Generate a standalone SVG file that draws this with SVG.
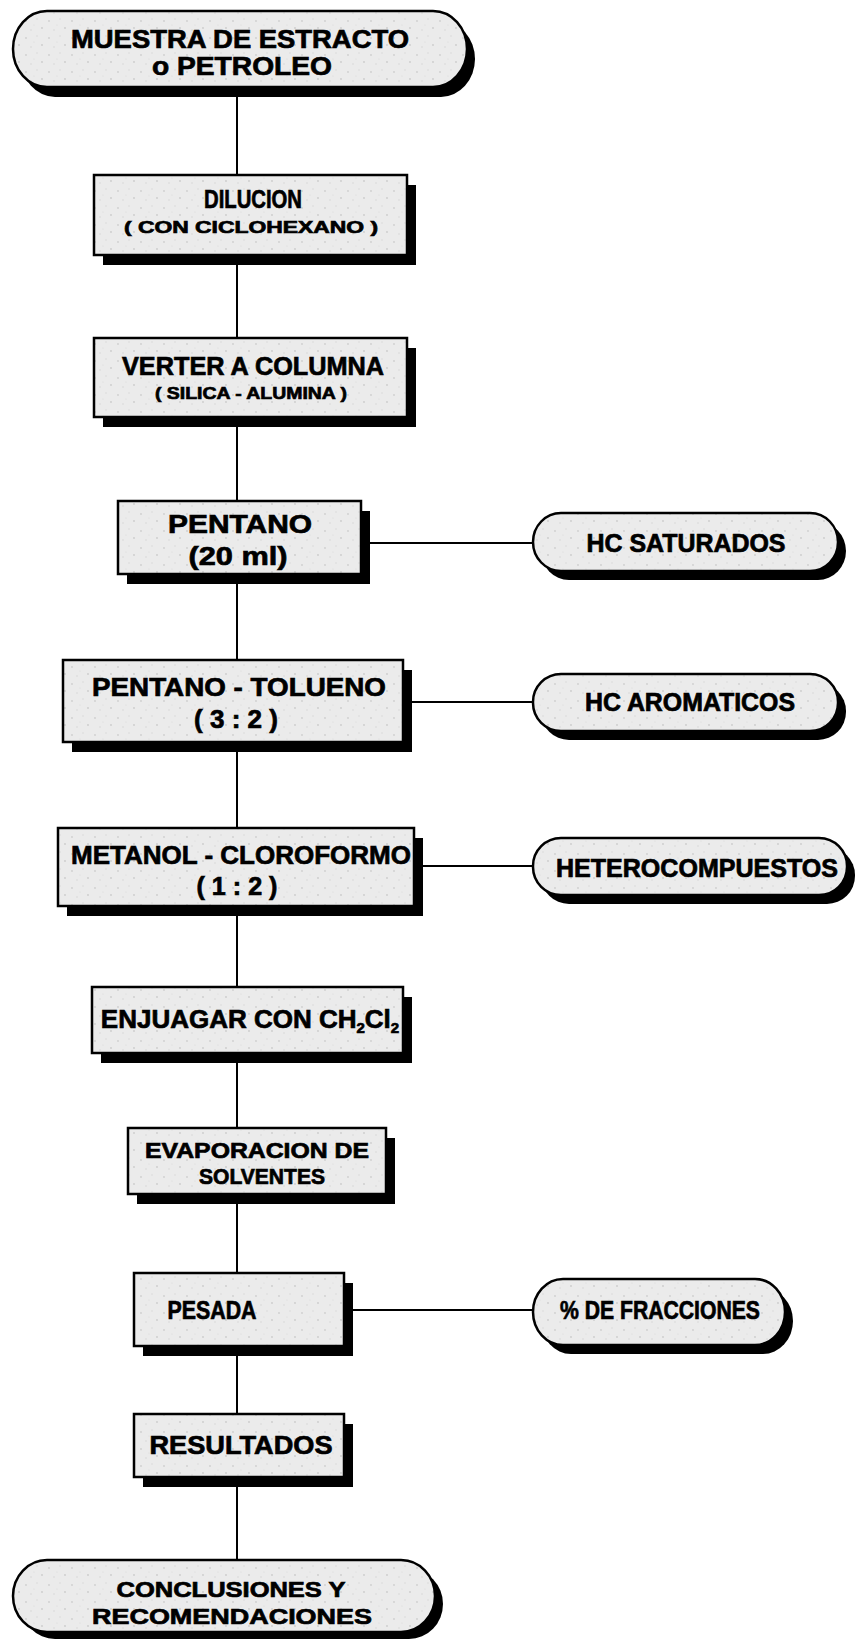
<svg xmlns="http://www.w3.org/2000/svg" width="856" height="1643" viewBox="0 0 856 1643">
  <style>
    .shadow { fill: #000; }
    .box { fill: url(#speckle); stroke: #000; stroke-width: 2.5; }
    .wire { stroke: #000; stroke-width: 2; fill: none; }
    text { font-family: "Liberation Sans", Arial, sans-serif; font-weight: bold; fill: #000; stroke: #000; stroke-width: 0.7; text-anchor: middle; }
    .big { font-size: 26px; }
    .two { font-size: 22px; }
    .mid { font-size: 25px; }
    .small { font-size: 17px; }
  </style>
  <defs>
    <!-- light grey stipple used as the box fill -->
    <pattern id="speckle" width="23" height="17" patternUnits="userSpaceOnUse">
      <rect width="23" height="17" fill="#ebebeb"/>
      <circle cx="3" cy="4" r="0.9" fill="#cfcfcf"/>
      <circle cx="14" cy="2" r="0.7" fill="#d6d6d6"/>
      <circle cx="19" cy="11" r="0.9" fill="#cccccc"/>
      <circle cx="8" cy="13" r="0.7" fill="#d4d4d4"/>
      <circle cx="11" cy="8" r="0.6" fill="#dadada"/>
    </pattern>
  </defs>

  <!-- connectors -->
  <g id="connectors">
    <line class="wire" x1="237" y1="88" x2="237" y2="1560"/>
    <line class="wire" x1="370" y1="543" x2="534" y2="543"/>
    <line class="wire" x1="412" y1="702" x2="534" y2="702"/>
    <line class="wire" x1="422" y1="866" x2="534" y2="866"/>
    <line class="wire" x1="352" y1="1310" x2="534" y2="1310"/>
  </g>

  <!-- start terminal -->
  <g id="n-muestra">
    <rect class="shadow" x="21" y="21" width="454" height="76" rx="34" ry="38"/>
    <rect class="box" x="13" y="11" width="454" height="76" rx="34" ry="38"/>
    <text class="big" x="240" y="48" textLength="338" lengthAdjust="spacingAndGlyphs">MUESTRA DE ESTRACTO</text>
    <text class="big" x="242" y="75" textLength="180" lengthAdjust="spacingAndGlyphs">o PETROLEO</text>
  </g>

  <g id="n-dilucion">
    <rect class="shadow" x="103" y="185" width="313" height="80"/>
    <rect class="box" x="94" y="175" width="313" height="80"/>
    <text class="big" x="253" y="208" textLength="98" lengthAdjust="spacingAndGlyphs">DILUCION</text>
    <text class="small" x="251" y="233" textLength="254" lengthAdjust="spacingAndGlyphs">( CON CICLOHEXANO )</text>
  </g>

  <g id="n-verter">
    <rect class="shadow" x="103" y="348" width="313" height="79"/>
    <rect class="box" x="94" y="338" width="313" height="79"/>
    <text class="big" x="253" y="375" textLength="262" lengthAdjust="spacingAndGlyphs">VERTER A COLUMNA</text>
    <text class="small" x="251" y="399" textLength="192" lengthAdjust="spacingAndGlyphs">( SILICA - ALUMINA )</text>
  </g>

  <g id="n-pentano">
    <rect class="shadow" x="127" y="511" width="243" height="73"/>
    <rect class="box" x="118" y="501" width="243" height="73"/>
    <text class="big" x="240" y="533" textLength="144" lengthAdjust="spacingAndGlyphs">PENTANO</text>
    <text class="big" x="238" y="565" textLength="99" lengthAdjust="spacingAndGlyphs">(20 ml)</text>
  </g>

  <g id="n-hc-saturados">
    <rect class="shadow" x="541" y="522" width="305" height="58" rx="28" ry="29"/>
    <rect class="box" x="533" y="513" width="305" height="58" rx="28" ry="29"/>
    <text class="mid" x="686" y="552" textLength="199" lengthAdjust="spacingAndGlyphs">HC SATURADOS</text>
  </g>

  <g id="n-pentano-tolueno">
    <rect class="shadow" x="72" y="670" width="340" height="82"/>
    <rect class="box" x="63" y="660" width="340" height="82"/>
    <text class="big" x="239" y="696" textLength="294" lengthAdjust="spacingAndGlyphs">PENTANO - TOLUENO</text>
    <text class="big" x="236" y="728" textLength="84" lengthAdjust="spacingAndGlyphs">( 3 : 2 )</text>
  </g>

  <g id="n-hc-aromaticos">
    <rect class="shadow" x="541" y="683" width="305" height="57" rx="28" ry="28"/>
    <rect class="box" x="533" y="674" width="305" height="57" rx="28" ry="28"/>
    <text class="mid" x="690" y="711" textLength="210" lengthAdjust="spacingAndGlyphs">HC AROMATICOS</text>
  </g>

  <g id="n-metanol">
    <rect class="shadow" x="67" y="838" width="356" height="78"/>
    <rect class="box" x="58" y="828" width="356" height="78"/>
    <text class="big" x="241" y="864" textLength="340" lengthAdjust="spacingAndGlyphs">METANOL - CLOROFORMO</text>
    <text class="big" x="237" y="895" textLength="81" lengthAdjust="spacingAndGlyphs">( 1 : 2 )</text>
  </g>

  <g id="n-heterocompuestos">
    <rect class="shadow" x="541" y="847" width="314" height="57" rx="28" ry="28"/>
    <rect class="box" x="533" y="838" width="314" height="57" rx="28" ry="28"/>
    <text class="mid" x="697" y="877" textLength="282" lengthAdjust="spacingAndGlyphs">HETEROCOMPUESTOS</text>
  </g>

  <g id="n-enjuagar">
    <rect class="shadow" x="101" y="997" width="311" height="66"/>
    <rect class="box" x="92" y="987" width="311" height="66"/>
    <text class="big" x="250" y="1028">ENJUAGAR CON CH<tspan font-size="15" dy="5">2</tspan><tspan dy="-5">Cl</tspan><tspan font-size="15" dy="5">2</tspan></text>
  </g>

  <g id="n-evaporacion">
    <rect class="shadow" x="137" y="1138" width="258" height="66"/>
    <rect class="box" x="128" y="1128" width="258" height="66"/>
    <text class="two" x="257" y="1158" textLength="224" lengthAdjust="spacingAndGlyphs">EVAPORACION DE</text>
    <text class="two" x="262" y="1184" textLength="126" lengthAdjust="spacingAndGlyphs">SOLVENTES</text>
  </g>

  <g id="n-pesada">
    <rect class="shadow" x="143" y="1283" width="210" height="73"/>
    <rect class="box" x="134" y="1273" width="210" height="73"/>
    <text class="big" x="212" y="1319" textLength="89" lengthAdjust="spacingAndGlyphs">PESADA</text>
  </g>

  <g id="n-fracciones">
    <rect class="shadow" x="541" y="1288" width="252" height="66" rx="30" ry="33"/>
    <rect class="box" x="533" y="1279" width="252" height="66" rx="30" ry="33"/>
    <text class="mid" x="660" y="1319" textLength="200" lengthAdjust="spacingAndGlyphs">% DE FRACCIONES</text>
  </g>

  <g id="n-resultados">
    <rect class="shadow" x="143" y="1424" width="210" height="63"/>
    <rect class="box" x="134" y="1414" width="210" height="63"/>
    <text class="big" x="241" y="1454" textLength="183" lengthAdjust="spacingAndGlyphs">RESULTADOS</text>
  </g>

  <!-- end terminal -->
  <g id="n-conclusiones">
    <rect class="shadow" x="21" y="1569" width="422" height="70" rx="34" ry="35"/>
    <rect class="box" x="13" y="1560" width="422" height="72" rx="34" ry="36"/>
    <text class="two" x="231" y="1597" textLength="229" lengthAdjust="spacingAndGlyphs">CONCLUSIONES Y</text>
    <text class="two" x="232" y="1624" textLength="280" lengthAdjust="spacingAndGlyphs">RECOMENDACIONES</text>
  </g>
</svg>
